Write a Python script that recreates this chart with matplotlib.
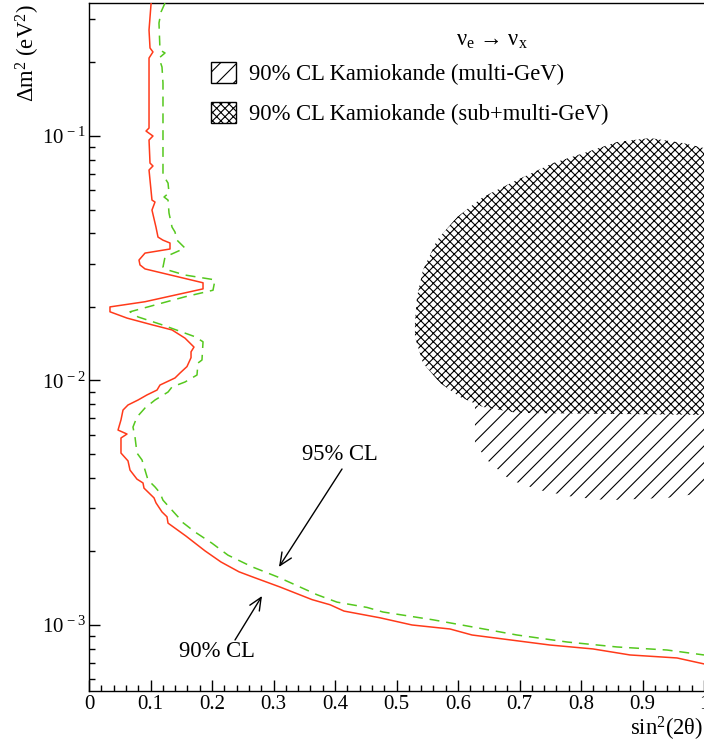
import math
import matplotlib
matplotlib.use("Agg")
import matplotlib.pyplot as plt
from matplotlib.patches import Polygon, Patch
from matplotlib.ticker import MultipleLocator, LogLocator, FuncFormatter, NullFormatter, FixedLocator

plt.rcParams['font.family'] = ['Liberation Serif', 'DejaVu Serif']
plt.rcParams['mathtext.fontset'] = 'custom'
plt.rcParams['mathtext.rm'] = 'Liberation Serif'
plt.rcParams['mathtext.it'] = 'Liberation Serif:italic'
plt.rcParams['mathtext.bf'] = 'Liberation Serif:bold'
plt.rcParams['hatch.linewidth'] = 0.8

# ---------------- data ----------------
# 90% CL exclusion contour (solid red)
s90_x = [0.101, 0.0976, 0.0992, 0.104, 0.0976, 0.0976, 0.0927, 0.104, 0.0976, 0.0992,
         0.104, 0.0976, 0.1024, 0.1073, 0.1024, 0.1089, 0.1122, 0.1203, 0.1317, 0.1317,
         0.0911, 0.0813, 0.0829, 0.0911, 0.1854, 0.1854, 0.0911, 0.0341, 0.0341, 0.0618,
         0.1024, 0.135, 0.1561, 0.1707, 0.1659, 0.1659, 0.1593, 0.148, 0.1398, 0.1154,
         0.1106, 0.0943, 0.0797, 0.0634, 0.0553, 0.052, 0.0472, 0.0618, 0.052, 0.052,
         0.0634, 0.0667, 0.078, 0.0878, 0.0894, 0.1057, 0.1089, 0.1187, 0.1268, 0.1285,
         0.1577, 0.1886, 0.2146, 0.2439, 0.2667, 0.3106, 0.3626, 0.3919, 0.4146, 0.4732,
         0.5252, 0.587, 0.6228, 0.7496, 0.8195, 0.8797, 0.9561, 1.0]
s90_y = [0.350, 0.2713, 0.2291, 0.2207, 0.2084, 0.1078, 0.1048, 0.100, 0.0963, 0.0775,
         0.0754, 0.0726, 0.0547, 0.0537, 0.0498, 0.0424, 0.0386, 0.0375, 0.0365, 0.0345,
         0.0332, 0.0311, 0.0297, 0.0286, 0.0251, 0.0237, 0.0210, 0.0200, 0.0191, 0.0180,
         0.0169, 0.0161, 0.0149, 0.0137, 0.0131, 0.0124, 0.0114, 0.01073, 0.01024, 0.00958,
         0.00914, 0.00873, 0.00832, 0.00794, 0.00757, 0.00690, 0.00627, 0.00604, 0.00582, 0.00505,
         0.00469, 0.00430, 0.00395, 0.00381, 0.00363, 0.00331, 0.00316, 0.00290, 0.00277, 0.00261,
         0.00231, 0.00201, 0.00181, 0.00165, 0.00157, 0.00143, 0.00127, 0.00121, 0.00114, 0.00107,
         0.00100, 0.000963, 0.000910, 0.000828, 0.000798, 0.000754, 0.000733, 0.000693]

# 95% CL exclusion contour (dashed green)
s95_x = [0.1236, 0.1171, 0.1138, 0.1154, 0.1236, 0.1138, 0.1187, 0.1203, 0.1203, 0.1285,
         0.1301, 0.122, 0.1285, 0.1301, 0.135, 0.1398, 0.1431, 0.1561, 0.1236, 0.1203,
         0.1285, 0.1561, 0.2049, 0.2016, 0.1561, 0.0667, 0.0797, 0.1187, 0.1724, 0.1854,
         0.1837, 0.1772, 0.1756, 0.1561, 0.135, 0.1285, 0.1073, 0.0911, 0.078, 0.0715,
         0.0748, 0.078, 0.0862, 0.0911, 0.0959, 0.1073, 0.1154, 0.1203, 0.1317, 0.1447,
         0.1512, 0.1724, 0.2, 0.226, 0.265, 0.3073, 0.3431, 0.3707, 0.4033, 0.452,
         0.478, 0.5593, 0.6146, 0.6959, 0.7772, 0.8585, 0.9398, 1.0]
s95_y = [0.350, 0.3215, 0.290, 0.2247, 0.2186, 0.2084, 0.1915, 0.1647, 0.0693, 0.0642,
         0.0585, 0.0563, 0.0547, 0.0484, 0.0424, 0.0405, 0.0375, 0.0348, 0.0320, 0.0291,
         0.0283, 0.0270, 0.0258, 0.0234, 0.0220, 0.0191, 0.0182, 0.0169, 0.0151, 0.0144,
         0.01213, 0.01179, 0.01053, 0.00986, 0.00941, 0.00897, 0.00832, 0.00772, 0.00709, 0.00645,
         0.00587, 0.00505, 0.00473, 0.00430, 0.00392, 0.00367, 0.00347, 0.00324, 0.00301, 0.00277,
         0.00264, 0.00240, 0.00216, 0.00193, 0.00173, 0.00157, 0.00143, 0.00133, 0.00124, 0.00118,
         0.00113, 0.00105, 0.000991, 0.000910, 0.000852, 0.000813, 0.000790, 0.000754]

# Kamiokande 90% CL allowed region (sub+multi-GeV), cross-hatched
kam_sub_x = [0.530, 0.5333, 0.543, 0.5659, 0.5984, 0.6407, 0.696, 0.7545, 0.8098, 0.8585,
             0.9122, 0.9659, 1.0, 1.05, 1.05, 1.0, 0.696, 0.6407, 0.6033, 0.5707, 0.543, 0.530]
kam_sub_y = [0.01718, 0.0220, 0.0283, 0.0375, 0.0466, 0.0563, 0.0661, 0.0775, 0.0860, 0.0945,
             0.0981, 0.0936, 0.0893, 0.080, 0.0072, 0.00723, 0.00737, 0.00779, 0.00856, 0.00977,
             0.01179, 0.01506]

# Kamiokande 90% CL allowed region (multi-GeV), single hatch (visible part)
kam_multi_x = [0.6276, 0.66, 1.05, 1.05, 1.0, 0.9398, 0.8423, 0.787, 0.7333, 0.6846, 0.6472, 0.6276]
kam_multi_y = [0.0079, 0.0079, 0.0079, 0.0036, 0.00347, 0.00331, 0.00324, 0.00334, 0.00356,
               0.00392, 0.00473, 0.00555]

x_ticks = [0, 0.1, 0.2, 0.3, 0.4, 0.5, 0.6, 0.7, 0.8, 0.9, 1.0]
y_ticks = [1e-3, 1e-2, 1e-1]

# ---------------- figure ----------------
W, H = 704, 745
fig = plt.figure(figsize=(W / 100, H / 100), dpi=100)
ax = fig.add_axes([89 / W, 54 / H, 615 / W, 688 / H])

ax.set_yscale('log')
ax.set_xlim(0, 1)
ax.set_ylim(5.37e-4, 0.35)

ax.add_patch(Polygon(list(zip(kam_multi_x, kam_multi_y)), closed=True, facecolor='white',
                     edgecolor='black', hatch='//', linewidth=0, zorder=1))
ax.add_patch(Polygon(list(zip(kam_sub_x, kam_sub_y)), closed=True, facecolor='white',
                     edgecolor='black', hatch='xxxx', linewidth=0, zorder=2))

ax.plot(s90_x, s90_y, color='#ff3a1a', lw=1.1, zorder=3)
ax.plot(s95_x, s95_y, color='#55c81e', lw=1.1, ls=(0, (6.5, 4.5)), zorder=3)

# annotations
ax.text(0.408, 0.00496, '95% CL', fontsize=16.3, ha='center', va='center')
ax.text(0.2081, 0.000776, '90% CL', fontsize=16.3, ha='center', va='center')
ap = dict(arrowstyle='->,head_length=0.45,head_width=0.2', color='black', lw=1.0,
          shrinkA=0, shrinkB=0, mutation_scale=20)
ax.annotate('', xy=(0.3089, 0.001727), xytext=(0.4114, 0.004345), arrowprops=ap)
ax.annotate('', xy=(0.2813, 0.001314), xytext=(0.2374, 0.000868), arrowprops=ap)

# legend
handles = [Patch(facecolor='white', edgecolor='black', hatch='//', lw=1.0,
                 label='90% CL Kamiokande (multi-GeV)'),
           Patch(facecolor='white', edgecolor='black', hatch='xxxx', lw=1.0,
                 label='90% CL Kamiokande (sub+multi-GeV)')]
ax.legend(handles=handles, loc='upper left', bbox_to_anchor=(211 / W, 1 - 62 / H),
          bbox_transform=fig.transFigure, frameon=False, fontsize=16.3,
          handlelength=1.11, handleheight=1.06, handletextpad=0.55,
          labelspacing=0.74, borderpad=0, borderaxespad=0)

fig.text(492 / W, 1 - 40 / H, 'ν$_{\\mathrm{e}}$ → ν$_{\\mathrm{x}}$', fontsize=16.3,
         ha='center', va='center')

# axes labels
fig.text(28 / W, 1 - 4 / H, 'Δm$^{2}$ (eV$^{2}$)', rotation=90, fontsize=16.3,
         ha='center', va='top')
fig.text(703 / W, 1 - 729 / H, 'sin$^{2}$(2θ)', fontsize=16.3, ha='right', va='center')

# ticks
ax.xaxis.set_major_locator(FixedLocator(x_ticks))
ax.xaxis.set_minor_locator(MultipleLocator(0.02))
ax.xaxis.set_major_formatter(FuncFormatter(lambda v, p: '%g' % v))
ax.yaxis.set_major_locator(FixedLocator(y_ticks))
ax.yaxis.set_minor_locator(LogLocator(base=10, subs=[2, 3, 4, 5, 6, 7, 8, 9]))
ax.yaxis.set_minor_formatter(NullFormatter())
ax.yaxis.set_major_formatter(FuncFormatter(
    lambda v, p: '$\\mathregular{10^{\\,%d}}$' % round(math.log10(v))))

ax.tick_params(which='both', direction='in', top=False, right=False, width=1.0,
               labelsize=15)
ax.tick_params(which='major', length=8)
ax.tick_params(which='minor', length=4.3)
ax.tick_params(axis='x', pad=3)
ax.tick_params(axis='y', pad=2)
for s in ('left', 'bottom', 'top'):
    ax.spines[s].set_linewidth(1.0)
ax.spines['right'].set_visible(False)

fig.savefig('out.png', dpi=100)
